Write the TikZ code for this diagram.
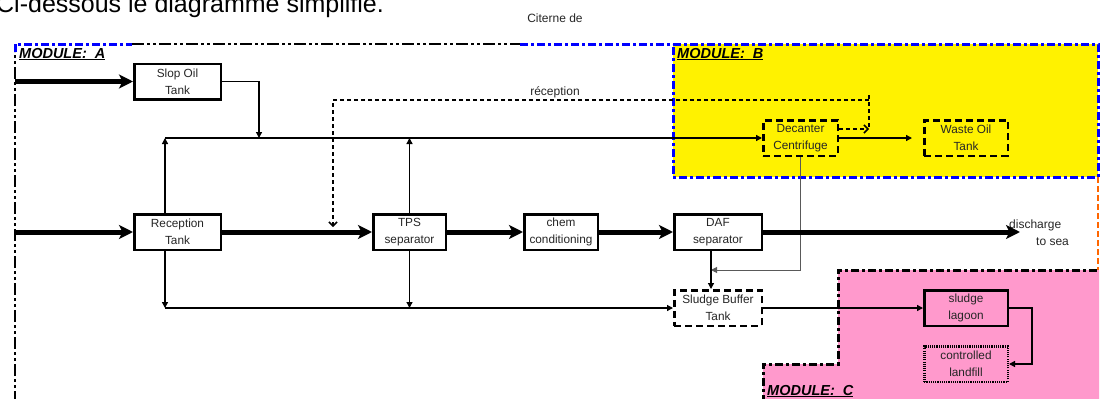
\documentclass[tikz,border=0pt]{standalone}
\usepackage{fontspec}
\setmainfont{Liberation Sans}
\usetikzlibrary{arrows.meta}
\definecolor{pinkC}{HTML}{FF99CC}
\definecolor{orangeA}{HTML}{FF6600}
\definecolor{blueB}{HTML}{0000FF}
\begin{document}
\begin{tikzpicture}[x=1pt,y=-1pt,
  box/.style={draw, line width=2.5pt, fill=white, inner sep=0pt, align=center,
    font=\fontsize{11.8}{17}\selectfont, text=black!85, minimum height=35.5pt},
  dbox/.style={box, dash pattern=on 7pt off 4pt},
  dotbox/.style={box, line width=2.5pt, dash pattern=on 1.1pt off 1.1pt},
  lbl/.style={inner sep=0pt, font=\fontsize{12}{14}\selectfont, text=black!85},
  modlabel/.style={inner sep=0pt, font=\fontsize{14.5}{16}\selectfont\bfseries\itshape},
  modA/.style={line width=2.5pt, dash pattern=on 12pt off 3pt on 3pt off 3pt on 3pt off 3pt},
  modB/.style={blueB, line width=3pt, dash pattern=on 8pt off 3pt on 3pt off 3pt},
  modC/.style={line width=3pt, dash pattern=on 8pt off 3pt on 3pt off 3pt},
  modO/.style={orangeA, line width=2.5pt, dash pattern=on 6pt off 3pt},
  thickflow/.style={line width=5pt, -{Stealth[length=14pt,width=14pt,inset=3.5pt]}},
  flow/.style={line width=1.3pt, -{Triangle[length=6pt,width=6pt]}},
  gflow/.style={line width=1pt, draw=black!65, -{Triangle[length=6pt,width=6pt]}},
  dline/.style={line width=1.5pt, dash pattern=on 4pt off 3pt},
  dflow/.style={dline, -{Straight Barb[length=4pt,width=8pt]}}
]
\useasboundingbox (0,0) rectangle (1104,399);

% cropped heading
\node[anchor=base west, inner sep=0pt, font=\fontsize{25}{29}\selectfont] (title) at (-4,12) {Ci-dessous le diagramme simplifié.};

% module backgrounds
\fill[pinkC] (763,403) -- (763,364) -- (838,364) -- (838,270) -- (1099,270) -- (1099,403) -- cycle;
\fill[yellow] (673,44) rectangle (1098,177);

% module borders
\draw[modA] (15,403) -- (15,52);
\draw[modA] (132,44) -- (520,44);
\draw[modB] (15,52) -- (15,44) -- (132,44);
\draw[modB] (520,44) -- (1098,44) -- (1098,177) -- (673,177) -- (673,44);
\draw[modO] (1098,177) -- (1098,270);
\draw[modC] (763,403) -- (763,364) -- (838,364) -- (838,270) -- (1099,270);

% module labels
\node[modlabel, anchor=base west] (labA) at (19,58) {\underline{MODULE:\ \ A}};
\node[modlabel, anchor=base west] (labB) at (677,58) {\underline{MODULE:\ \ B}};
\node[modlabel, anchor=base west] (labC) at (767,395) {\underline{MODULE:\ \ C}};

% nodes
\node[box, minimum width=86.5pt] (slop) at (177.5,81.5) {Slop Oil\\Tank};
\node[box, minimum width=86.5pt] (recv) at (177.5,232) {Reception\\Tank};
\node[box, minimum width=72.5pt] (tps) at (409.5,232) {TPS\\separator};
\node[box, minimum width=73.5pt] (chem) at (561,232) {chem\\conditioning};
\node[box, minimum width=87.5pt] (daf) at (718,232) {DAF\\separator};
\node[dbox, minimum width=87.5pt] (buffer) at (718,308) {Sludge Buffer\\Tank};
\node[dbox, fill=yellow, minimum width=74.5pt] (decanter) at (800.5,138) {Decanter\\Centrifuge};
\node[dbox, fill=yellow, minimum width=83.5pt] (waste) at (966,138) {Waste Oil\\Tank};
\node[box, fill=pinkC, minimum width=83.5pt] (lagoon) at (966,308) {sludge\\lagoon};
\node[dotbox, fill=pinkC, minimum width=83.5pt] (landfill) at (966,364) {controlled\\landfill};

% text labels
\node[lbl] (cit1) at (555,18) {Citerne de};
\node[lbl] (cit2) at (555,92) {réception};
\node[lbl, anchor=west] (dis1) at (1009,225) {discharge};
\node[lbl, anchor=west] (dis2) at (1036,242) {to sea};

% coordinates
\coordinate (inA) at (15,81.5);
\coordinate (inB) at (15,232);
\coordinate (sea) at (1020,232);
\coordinate (hL) at (165,138);
\coordinate (hS) at (259,138);
\coordinate (bL) at (165,308);
\coordinate (jD) at (711,270);
\coordinate (lr) at (1032,308);
\coordinate (cA) at (333,100);
\coordinate (cB) at (333,227);
\coordinate (cC) at (869,100);
\coordinate (cT) at (869,95);
\coordinate (cD) at (869,129);

% dashed citerne line
\draw[dflow] (cC) -- (cA) -- (cB);
\draw[dline] (cT) -- (cD);
\draw[dflow] (decanter.east |- cD) -- (cD);

% thin connectors
\draw[gflow] (decanter.south) |- (jD);
\draw[flow] (slop.east) -| (hS);
\draw[flow] (hL) -- (decanter.west);
\draw[flow] (recv.north -| hL) -- (hL);
\draw[flow] (tps.north) -- (tps.north |- hL);
\draw[flow] (recv.south -| bL) -- (bL);
\draw[flow] (tps.south) -- (tps.south |- bL);
\draw[flow] (bL) -- (buffer.west);
\draw[flow] (daf.south -| jD) -- (buffer.north -| jD);
\draw[flow] (buffer.east) -- (lagoon.west);
\draw[flow] (lagoon.east) -- (lr) |- (landfill.east);
\draw[flow] (decanter.east) -- ([xshift=-11pt]waste.west);

% thick main flow
\draw[thickflow] (inA) -- (slop.west);
\draw[thickflow] (inB) -- (recv.west);
\draw[thickflow] (recv.east) -- (tps.west);
\draw[thickflow] (tps.east) -- (chem.west);
\draw[thickflow] (chem.east) -- (daf.west);
\draw[thickflow] (daf.east) -- (sea);
\end{tikzpicture}
\end{document}
